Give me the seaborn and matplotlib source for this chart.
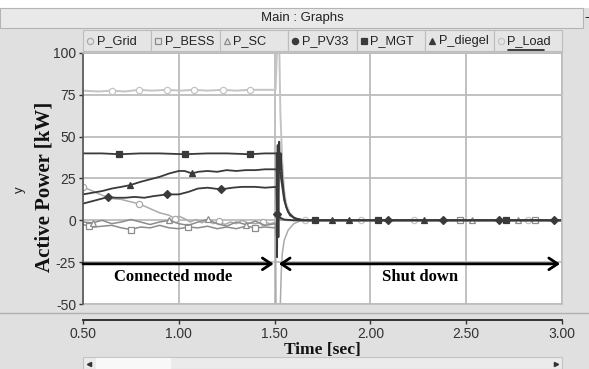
import matplotlib
matplotlib.use('Agg')
import matplotlib.pyplot as plt
import seaborn as sns
from matplotlib.patches import Rectangle

sns.set_theme(style='white')
SANS = ['Liberation Sans Narrow', 'Liberation Sans', 'DejaVu Sans']
SERIF = ['Liberation Serif', 'DejaVu Serif']
plt.rcParams['font.family'] = SANS

# ---------------- data ----------------
series_names = ['P_Grid', 'P_BESS', 'P_SC', 'P_PV33', 'P_MGT', 'P_diegel', 'P_Load']
x_ticks = [0.50, 1.00, 1.50, 2.00, 2.50, 3.00]
x_tick_labels = ['0.50', '1.00', '1.50', '2.00', '2.50', '3.00']
y_ticks = [-50, -25, 0, 25, 50, 75, 100]
y_tick_labels = ['-50', '-25', '0', '25', '50', '75', '100']

t_load = [0.50, 0.58, 0.65, 0.72, 0.79, 0.86, 0.94, 1.01, 1.08, 1.15, 1.23, 1.30, 1.37, 1.44, 1.505,
          1.512, 1.525, 1.53, 1.54, 1.55, 1.56, 1.58, 1.61, 1.66, 1.95, 2.23, 2.82, 3.00]
v_load = [77.5, 77.0, 77.5, 77.0, 78.0, 77.5, 78.0, 77.5, 78.0, 77.5, 78.0, 77.5, 78.0, 78.0, 78.0,
          100.0, 100.0, 65.0, 35.0, 18.0, 10.0, 4.0, 1.0, 0.0, 0.0, 0.0, 0.0, 0.0]
m_load = [0.65, 0.79, 0.94, 1.08, 1.23, 1.37, 1.66, 1.95, 2.23, 2.82]

t_mgt = [0.50, 0.60, 0.69, 0.80, 0.90, 1.03, 1.15, 1.25, 1.37, 1.45, 1.510, 1.513, 1.516, 1.520,
         1.524, 1.528, 1.532, 1.54, 1.55, 1.56, 1.58, 1.61, 1.65, 1.71, 2.04, 2.71, 3.00]
v_mgt = [40.0, 40.0, 39.5, 40.0, 40.0, 39.5, 40.0, 40.0, 39.5, 40.0, 40.0, -22.0, 45.0, -10.0,
         47.0, 30.0, 40.0, 25.0, 14.0, 8.0, 3.0, 1.0, 0.0, 0.0, 0.0, 0.0, 0.0]
m_mgt = [0.69, 1.03, 1.37, 1.71, 2.04, 2.71]

t_dg = [0.50, 0.55, 0.60, 0.65, 0.70, 0.745, 0.80, 0.85, 0.90, 0.95, 1.00, 1.03, 1.07, 1.10, 1.15,
        1.20, 1.25, 1.30, 1.35, 1.40, 1.45, 1.51, 1.515, 1.52, 1.53, 1.54, 1.55, 1.57, 1.60, 1.65,
        1.80, 1.89, 2.28, 3.00]
v_dg = [15.5, 16.5, 17.5, 19.0, 20.0, 21.0, 23.0, 24.5, 26.0, 28.0, 29.5, 29.5, 28.0, 29.0, 29.5,
        29.0, 30.0, 29.5, 30.0, 30.0, 30.5, 30.5, 25.0, 33.0, 28.0, 20.0, 12.0, 5.0, 1.5, 0.0,
        0.0, 0.0, 0.0, 0.0]
m_dg = [0.745, 1.07, 1.80, 1.89, 2.28]

t_pv = [0.50, 0.55, 0.60, 0.63, 0.67, 0.72, 0.77, 0.82, 0.87, 0.94, 1.00, 1.05, 1.10, 1.15, 1.22,
        1.28, 1.33, 1.40, 1.45, 1.51, 1.512, 1.52, 1.53, 1.55, 1.60, 2.09, 2.38, 2.67, 2.96, 3.00]
v_pv = [10.0, 11.5, 13.0, 14.0, 13.5, 13.5, 14.0, 13.5, 14.5, 15.5, 15.5, 17.0, 19.0, 19.5, 18.5,
        19.5, 20.0, 20.0, 19.5, 20.0, 4.0, 3.0, 1.5, 0.5, 0.0, 0.0, 0.0, 0.0, 0.0, 0.0]
m_pv = [0.63, 0.94, 1.22, 1.512, 2.09, 2.38, 2.67, 2.96]

t_grid = [0.50, 0.55, 0.60, 0.65, 0.70, 0.75, 0.79, 0.83, 0.87, 0.90, 0.95, 0.98, 1.00, 1.03, 1.06,
          1.09, 1.12, 1.15, 1.18, 1.21, 1.24, 1.27, 1.30, 1.33, 1.36, 1.40, 1.44, 1.48, 1.505,
          1.507, 1.530, 1.535, 1.54, 1.55, 1.57, 1.60, 1.63, 1.66, 3.00]
v_grid = [20.0, 17.5, 15.0, 13.0, 12.5, 11.0, 10.0, 8.0, 6.0, 4.5, 3.0, 1.0, 2.5, 1.0, -1.0,
          0.5, -1.5, 0.0, -2.0, -0.5, -2.5, -1.0, -2.0, 0.0, -1.5, -2.0, -1.0, -2.0, -1.0,
          -50.0, -50.0, -30.0, -20.0, -12.0, -6.0, -2.0, -0.5, 0.0, 0.0]
m_grid = [0.50, 0.79, 0.98, 1.21, 1.44]

t_bess = [0.50, 0.53, 0.56, 0.60, 0.65, 0.70, 0.75, 0.80, 0.85, 0.90, 0.95, 1.00, 1.05, 1.10, 1.15,
          1.20, 1.25, 1.30, 1.35, 1.40, 1.45, 1.505, 1.51, 1.515, 1.53, 1.56, 2.47, 2.86, 3.00]
v_bess = [-2.5, -3.5, -4.0, -3.5, -3.0, -4.5, -5.5, -4.0, -4.5, -3.0, -4.5, -5.0, -4.0, -4.5, -3.5,
          -5.0, -4.0, -5.0, -3.5, -4.5, -4.0, -4.5, -8.0, 2.0, 0.5, 0.0, 0.0, 0.0, 0.0]
m_bess = [0.53, 0.75, 1.05, 1.40, 2.47, 2.86]

t_sc = [0.50, 0.55, 0.60, 0.65, 0.70, 0.75, 0.80, 0.85, 0.90, 0.95, 1.00, 1.05, 1.10, 1.15, 1.20,
        1.25, 1.30, 1.35, 1.40, 1.45, 1.505, 1.51, 1.52, 1.54, 1.57, 2.53, 2.77, 3.00]
v_sc = [-1.0, -1.5, 0.0, -2.0, -1.0, 0.5, -1.0, -2.5, -1.0, 0.0, -2.0, -3.0, -1.0, 0.5, -2.0,
        -3.5, -1.0, -2.5, -0.5, -3.0, -2.0, -10.0, 3.0, 0.5, 0.0, 0.0, 0.0, 0.0]
m_sc = [0.55, 0.95, 1.15, 1.35, 2.53, 2.77]

# ---------------- styles ----------------
DARK = '#3a3a3a'
MID = '#8c8c8c'
LIGHT = '#ababab'
VLIGHT = '#c4c4c4'
styles = {
    'P_Grid':   dict(color=LIGHT, marker='o', mfc='white', lw=1.1, ms=4.5),
    'P_BESS':   dict(color=MID, marker='s', mfc='white', lw=1.1, ms=4.5),
    'P_SC':     dict(color=MID, marker='^', mfc='white', lw=1.1, ms=4.5),
    'P_PV33':   dict(color=DARK, marker='D', mfc=DARK, lw=1.3, ms=4.0),
    'P_MGT':    dict(color=DARK, marker='s', mfc=DARK, lw=1.3, ms=5.0),
    'P_diegel': dict(color=DARK, marker='^', mfc=DARK, lw=1.3, ms=5.0),
    'P_Load':   dict(color=VLIGHT, marker='o', mfc='white', lw=1.4, ms=4.5),
}
data = {
    'P_Load': (t_load, v_load, m_load),
    'P_Grid': (t_grid, v_grid, m_grid),
    'P_BESS': (t_bess, v_bess, m_bess),
    'P_SC': (t_sc, v_sc, m_sc),
    'P_PV33': (t_pv, v_pv, m_pv),
    'P_diegel': (t_dg, v_dg, m_dg),
    'P_MGT': (t_mgt, v_mgt, m_mgt),
}
draw_order = ['P_Load', 'P_Grid', 'P_BESS', 'P_SC', 'P_PV33', 'P_diegel', 'P_MGT']

W, H = 589, 369
fig = plt.figure(figsize=(W / 100, H / 100), dpi=100)
fig.patch.set_facecolor('#e0e0e0')

# background / window chrome in pixel coordinates
bg = fig.add_axes([0, 0, 1, 1], zorder=0)
bg.set_xlim(0, W)
bg.set_ylim(H, 0)
bg.axis('off')
bg.add_patch(Rectangle((0, 0), W, 8, fc='white', ec='none'))
bg.add_patch(Rectangle((0, 8), 583, 20, fc='#e9e9e9', ec='#b4b4b4', lw=0.8))
bg.text(302, 17.5, 'Main : Graphs', ha='center', va='center', fontsize=9.5, color='#222222')
bg.text(587, 17, '-', ha='center', va='center', fontsize=10, color='#222222')

# legend row
cell_w = 479 / 7
for i, name in enumerate(series_names):
    x0 = 83 + i * cell_w
    bg.add_patch(Rectangle((x0, 30), cell_w, 21, fc='#e5e5e5', ec='#bdbdbd', lw=0.8))
    st = styles[name]
    mk = 'o' if name == 'P_PV33' else st['marker']
    mfc = st['mfc']
    mec = st['color'] if mfc == 'white' else DARK
    if mfc == 'white':
        mfc = 'none'
    bg.plot([x0 + 7], [41], marker=mk, ms=4.5, mfc=mfc, mec=mec, mew=0.9, ls='none')
    bg.text(x0 + 13.5, 41, name, ha='left', va='center', fontsize=9.2, color='#222222')
bg.plot([83 + 6 * cell_w + 14, 83 + 6 * cell_w + 50], [49.5, 49.5], color='#222222', lw=1.2)

# separator above the x axis & scrollbar
bg.plot([0, W], [313, 313], color='#b0b0b0', lw=1)
bg.add_patch(Rectangle((83, 357), 479, 12, fc='#ebebeb', ec='#c4c4c4', lw=0.8))
bg.add_patch(Rectangle((96, 358), 75, 11, fc='#f8f8f8', ec='none'))
bg.plot([89], [363.5], marker='<', ms=3, color='#333333', ls='none')
bg.plot([556], [363.5], marker='>', ms=3, color='#333333', ls='none')

# axis titles
bg.text(45, 187, 'Active Power [kW]', rotation=90, ha='center', va='center',
        family=SERIF, weight='bold', fontsize=15, color='#111111')
bg.text(20, 190, 'y', rotation=90, ha='center', va='center', fontsize=9.5, color='#222222')
bg.text(322, 350, 'Time [sec]', ha='center', va='center',
        family=SERIF, weight='bold', fontsize=12.5, color='#111111')

# ---------------- main plot ----------------
ax = fig.add_axes([83 / W, (H - 304) / H, 479 / W, 251 / H], zorder=1)
ax.set_facecolor('white')
for name in draw_order:
    t, v, m = data[name]
    st = styles[name]
    idx = [t.index(mm) for mm in m]
    mec = st['color'] if st['mfc'] == 'white' else DARK
    sns.lineplot(x=t, y=v, ax=ax, color=st['color'], lw=st['lw'], marker=st['marker'],
                 markevery=idx, markersize=st['ms'], markerfacecolor=st['mfc'],
                 markeredgecolor=mec, markeredgewidth=0.9, estimator=None, sort=False,
                 legend=False)

ax.set_xlim(0.5, 3.0)
ax.set_ylim(-50, 100)
ax.set_xticks(x_ticks)
ax.set_xticklabels(x_tick_labels)
ax.set_yticks(y_ticks)
ax.set_yticklabels(y_tick_labels)
ax.grid(True, color='#bcbcbc', lw=1.3)
ax.set_axisbelow(True)
ax.set_xlabel('')
ax.set_ylabel('')
ax.tick_params(axis='both', labelsize=10, colors='#333333', length=3, width=1, pad=2,
               direction='out', left=True, bottom=True)
for s in ['top', 'right']:
    ax.spines[s].set_color('#bdbdbd')
    ax.spines[s].set_linewidth(1.2)
ax.spines['left'].set_color('#555555')
ax.spines['left'].set_linewidth(1.2)
ax.spines['bottom'].set_position(('outward', 16 * 72 / 100))
ax.spines['bottom'].set_color('#333333')
ax.spines['bottom'].set_linewidth(1.4)
# plot box bottom border
ax.plot([0, 1], [0, 0], transform=ax.transAxes, color='#bdbdbd', lw=1.2, clip_on=False)

# mode arrows and labels
ax.annotate('', xy=(1.495, -26), xytext=(0.5, -26),
            arrowprops=dict(arrowstyle='->, head_length=0.45, head_width=0.3', lw=2,
                            color='black', shrinkA=0, shrinkB=0, mutation_scale=14))
ax.annotate('', xy=(2.99, -26), xytext=(1.522, -26),
            arrowprops=dict(arrowstyle='<->, head_length=0.45, head_width=0.3', lw=2,
                            color='black', shrinkA=0, shrinkB=0, mutation_scale=14))
ax.text(0.97, -34, 'Connected mode', ha='center', va='center', family=SERIF,
        weight='bold', fontsize=12, color='black')
ax.text(2.26, -34, 'Shut down', ha='center', va='center', family=SERIF,
        weight='bold', fontsize=12, color='black')

fig.savefig('out.png', dpi=100, facecolor=fig.get_facecolor())
